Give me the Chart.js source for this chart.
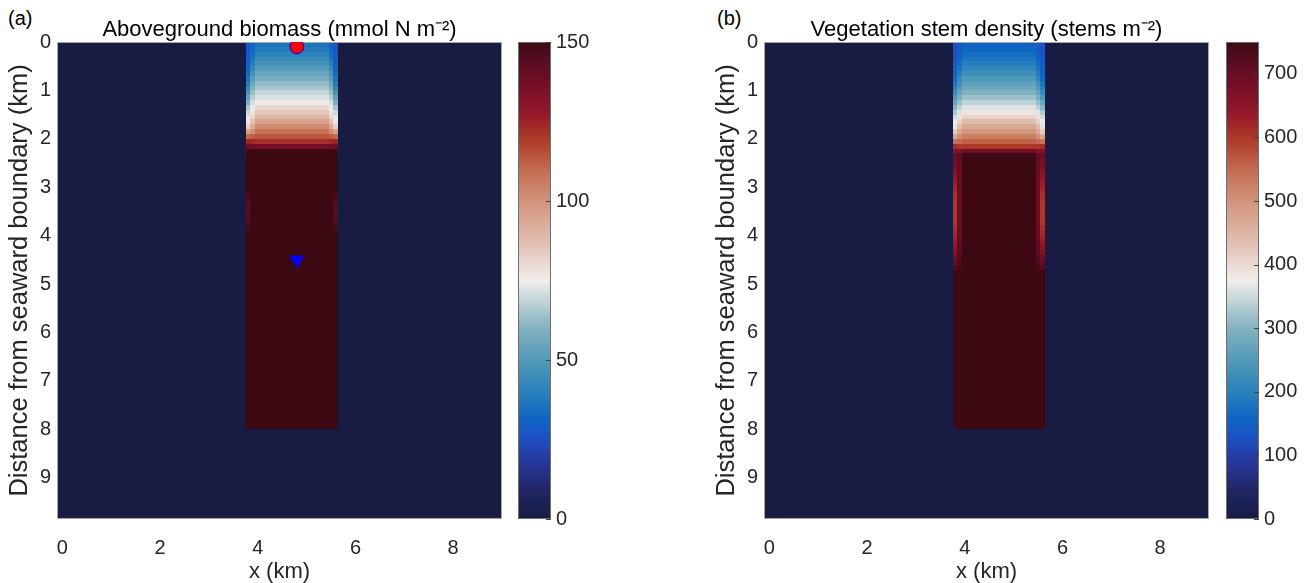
<!DOCTYPE html>
<html><head><meta charset="utf-8">
<script src="https://cdn.jsdelivr.net/npm/chart.js@4.4.1/dist/chart.umd.min.js"></script>
<style>
html,body{margin:0;padding:0;background:#fff;}
body{position:relative;width:1309px;height:583px;overflow:hidden;}
canvas{position:absolute;top:0;}
.panel{position:absolute;top:6px;font:20px "Liberation Sans",Arial,sans-serif;color:#000;line-height:24px;}
</style></head><body>
<div class="panel" style="left:8px">(a)</div>
<div class="panel" style="left:717px">(b)</div>
<canvas id="mapA" width="515" height="583" style="left:0px"></canvas>
<canvas id="barA" width="110" height="583" style="left:500px"></canvas>
<canvas id="mapB" width="515" height="583" style="left:707px"></canvas>
<canvas id="barB" width="110" height="583" style="left:1208px"></canvas>
<script>
// ---------------- DATA ----------------
const vegColumnCentres = [3.8,3.9,4.0,4.1,4.2,4.3,4.4,4.5,4.6,4.7,4.8,4.9,5.0,5.1,5.2,5.3,5.4,5.5,5.6];
const vegColumnProfile = ['edge','near','mid','mid','mid','mid','mid','mid','mid','mid','mid','mid','mid','mid','mid','mid','mid','near','edge'];
const rowCentres = [
 0.05,0.15,0.25,0.35,0.45,0.55,0.65,0.75,0.85,0.95,1.05,1.15,1.25,1.35,1.45,1.55,1.65,1.75,1.85,1.95,
 2.05,2.15,2.25,2.35,2.45,2.55,2.65,2.75,2.85,2.95,3.05,3.15,3.25,3.35,3.45,3.55,3.65,3.75,3.85,3.95,
 4.05,4.15,4.25,4.35,4.45,4.55,4.65,4.75,4.85,4.95,5.05,5.15,5.25,5.35,5.45,5.55,5.65,5.75,5.85,5.95,
 6.05,6.15,6.25,6.35,6.45,6.55,6.65,6.75,6.85,6.95,7.05,7.15,7.25,7.35,7.45,7.55,7.65,7.75,7.85,7.95];
const bareValue = 0;

// (a) aboveground biomass, mmol N m-2
const biomassMid = [
 36,38,41,44,47,51,55,58,62,65,69,72,76,80,85,90,96,102,108,114,
 122,136,165,165,165,165,165,165,165,165,
 165,165,165,165,165,165,165,165,165,165,
 165,165,165,165,165,165,165,165,165,165,
 165,165,165,165,165,165,165,165,165,165,
 165,165,165,165,165,165,165,165,165,165,
 165,165,165,165,165,165,165,165,165,165];
const biomassNear = [
 31,32,34,36,39,43,47,51,55,59,63,67,71,74,77,81,86,93,101,112,
 124,137,152,163,163,163,163,163,163,163,
 163,163,163,163,163,163,163,163,163,163,
 163,163,163,163,163,163,163,163,163,163,
 163,163,163,163,163,163,163,163,163,163,
 163,163,163,163,163,163,163,163,163,163,
 163,163,163,163,163,163,163,163,163,163];
const biomassEdge = [
 27,27,28,29,30,31,33,35,38,42,47,53,59,65,70,74,77,82,95,110,
 125,138,148,152,152,152,152,152,152,152,
 152,148,146,144,144,144,144,146,148,156,
 156,156,156,156,156,156,156,156,156,156,
 156,156,156,156,156,156,156,156,156,156,
 156,156,156,156,156,156,156,156,156,156,
 156,156,156,156,156,156,156,156,156,156];

// (b) vegetation stem density, stems m-2
const stemMid = [
 150,158,168,180,195,210,228,245,262,280,298,318,340,362,385,410,440,468,495,525,
 560,600,690,748,770,770,770,770,770,770,
 770,770,770,770,770,770,770,770,770,770,
 770,770,770,770,770,770,770,770,770,770,
 770,770,770,770,770,770,770,770,770,770,
 770,770,770,770,770,770,770,770,770,770,
 770,770,770,770,770,770,770,770,770,770];
const stemNear = [
 140,144,150,158,168,180,195,212,230,250,270,292,315,340,362,385,410,440,470,505,
 550,600,665,712,708,705,702,700,698,696,
 695,694,694,694,695,696,698,700,702,705,
 708,712,716,722,728,734,740,765,765,765,
 765,765,765,765,765,765,765,765,765,765,
 765,765,765,765,765,765,765,765,765,765,
 765,765,765,765,765,765,765,765,765,765];
const stemEdge = [
 128,130,133,137,142,148,156,166,180,198,220,245,275,305,330,352,372,390,420,470,
 540,610,670,700,690,680,668,655,642,630,
 620,612,605,600,598,598,600,604,610,618,
 628,640,655,672,690,708,725,760,760,760,
 760,760,760,760,760,760,760,760,760,760,
 760,760,760,760,760,760,760,760,760,760,
 760,760,760,760,760,760,760,760,760,760];

const biomassTickStep = 50, biomassMax = 150;
const stemTickStep = 100, stemMax = 750;
const surfaceSite = [{x:4.8, y:0.1}];
const interiorSite = [{x:4.8, y:4.5}];

// ---------------- STYLE ----------------
const FONT = '"Liberation Sans", Arial, Helvetica, sans-serif';
const BALANCE = [
 [0.00,24,28,67],[0.06,31,38,100],[0.12,39,56,155],[0.17,28,80,196],[0.21,14,102,196],
 [0.27,43,131,186],[0.33,80,153,185],[0.40,130,178,192],[0.45,186,207,212],[0.50,241,237,236],
 [0.57,227,196,184],[0.66,211,151,126],[0.73,196,109,83],[0.79,177,62,40],[0.85,150,24,42],
 [0.91,118,14,40],[0.96,88,12,31],[1.00,60,9,18]];
function cmap(t){
  t = Math.max(0, Math.min(1, t));
  for (let i=1;i<BALANCE.length;i++){
    const a=BALANCE[i-1], b=BALANCE[i];
    if (t<=b[0]){
      const f=(t-a[0])/(b[0]-a[0]);
      return 'rgb('+Math.round(a[1]+f*(b[1]-a[1]))+','+Math.round(a[2]+f*(b[2]-a[2]))+','+Math.round(a[3]+f*(b[3]-a[3]))+')';
    }
  }
  const l=BALANCE[BALANCE.length-1]; return 'rgb('+l[1]+','+l[2]+','+l[3]+')';
}

function buildCells(mid, near, edge){
  const prof = {mid:mid, near:near, edge:edge};
  const out = [];
  vegColumnCentres.forEach((cx,i)=>{
    const p = prof[vegColumnProfile[i]];
    rowCentres.forEach((cy,j)=>out.push({x:cx, y:cy, v:p[j]}));
  });
  return out;
}

const heatPlugin = {
  id:'heat',
  beforeDatasetsDraw(chart, args, opts){
    const ctx = chart.ctx, a = chart.chartArea, xs = chart.scales.x, ys = chart.scales.y;
    ctx.save();
    ctx.beginPath(); ctx.rect(a.left, a.top, a.right-a.left, a.bottom-a.top); ctx.clip();
    ctx.fillStyle = cmap(opts.bare/opts.vmax);
    ctx.fillRect(a.left, a.top, a.right-a.left, a.bottom-a.top);
    const h = opts.half;
    for (const c of chart.data.datasets[0].data){
      const x0=Math.round(xs.getPixelForValue(c.x-h)), x1=Math.round(xs.getPixelForValue(c.x+h));
      const y0=Math.round(ys.getPixelForValue(c.y-h)), y1=Math.round(ys.getPixelForValue(c.y+h));
      ctx.fillStyle = cmap(c.v/opts.vmax);
      ctx.fillRect(Math.min(x0,x1), Math.min(y0,y1), Math.abs(x1-x0), Math.abs(y1-y0));
    }
    ctx.restore();
    ctx.save();
    ctx.strokeStyle = '#a8a8a8'; ctx.lineWidth = 1;
    ctx.strokeRect(Math.round(a.left)+0.5, Math.round(a.top)+0.5, Math.round(a.right-a.left)-1, Math.round(a.bottom-a.top)-1);
    ctx.restore();
  }
};

const cbarPlugin = {
  id:'cbar',
  beforeDatasetsDraw(chart, args, opts){
    const ctx = chart.ctx, a = chart.chartArea, ys = chart.scales.y;
    ctx.save();
    const top = Math.round(a.top), bot = Math.round(a.bottom), l = Math.round(a.left), r = Math.round(a.right);
    for (let py=top; py<bot; py++){
      ctx.fillStyle = cmap(ys.getValueForPixel(py+0.5)/opts.vmax);
      ctx.fillRect(l, py, r-l, 1);
    }
    ctx.strokeStyle = '#6e6e6e'; ctx.lineWidth = 1;
    ctx.strokeRect(l+0.5, top+0.5, r-l-1, bot-top-1);
    ctx.strokeStyle = '#404040';
    ys.ticks.forEach(t=>{
      const py = Math.round(ys.getPixelForValue(t.value))+0.5;
      ctx.beginPath(); ctx.moveTo(r-5, py); ctx.lineTo(r, py); ctx.stroke();
    });
    ctx.restore();
  }
};

function mapConfig(cells, vmax, title, markers){
  return {
    type:'scatter',
    data:{datasets:[{data:cells, pointRadius:0, pointHoverRadius:0}].concat(markers)},
    options:{
      responsive:false, animation:false, events:[],
      layout:{padding:{left:0,right:13,top:0,bottom:0}},
      plugins:{
        legend:{display:false}, tooltip:{enabled:false},
        title:{display:true, text:title, fullSize:false, color:'#000',
               font:{family:FONT, size:22, weight:'normal', lineHeight:1.136}, padding:{top:17,bottom:0}},
        heat:{vmax:vmax, bare:bareValue, half:0.05}
      },
      scales:{
        x:{type:'linear', min:-0.11, max:9.0, afterFit:s=>{s.height=64;},
           grid:{display:false, drawTicks:false}, border:{display:false},
           ticks:{stepSize:2, includeBounds:false, color:'#262626', font:{family:FONT,size:20}, padding:17, maxRotation:0},
           title:{display:true, text:'x (km)', color:'#262626', font:{family:FONT,size:22,lineHeight:1.0}, padding:{top:0,bottom:0}}},
        y:{type:'linear', reverse:true, min:0, max:9.85, afterFit:s=>{s.width=57;},
           grid:{display:false, drawTicks:false}, border:{display:false},
           ticks:{stepSize:1, includeBounds:false, color:'#262626', font:{family:FONT,size:20}, padding:6, autoSkip:false},
           title:{display:true, text:'Distance from seaward boundary (km)', color:'#262626', font:{family:FONT,size:25.5,lineHeight:1.2}, padding:{top:5,bottom:0}}}
      }
    },
    plugins:[heatPlugin]
  };
}

function barConfig(vmax, step){
  return {
    type:'scatter',
    data:{datasets:[]},
    options:{
      responsive:false, animation:false, events:[],
      layout:{padding:{left:18,right:0,top:42,bottom:64}},
      plugins:{legend:{display:false}, tooltip:{enabled:false}, cbar:{vmax:vmax}},
      scales:{
        x:{display:false, min:0, max:1},
        y:{position:'right', min:0, max:vmax, afterFit:s=>{s.width=59;},
           grid:{display:false, drawTicks:false}, border:{display:false},
           ticks:{stepSize:step, includeBounds:false, color:'#262626', font:{family:FONT,size:20}, padding:5}}
      }
    },
    plugins:[cbarPlugin]
  };
}

const markersA = [
  {data:surfaceSite, pointStyle:'circle', pointRadius:7, pointBackgroundColor:'#ff0000', pointBorderColor:'#0000ff', pointBorderWidth:1},
  {data:interiorSite, pointStyle:'triangle', pointRotation:180, pointRadius:8.7, pointBackgroundColor:'#0000ff', pointBorderColor:'#0000ff', pointBorderWidth:0}
];

new Chart(document.getElementById('mapA'), mapConfig(buildCells(biomassMid, biomassNear, biomassEdge), biomassMax, 'Aboveground biomass (mmol N m\u207B\u00B2)', markersA));
new Chart(document.getElementById('barA'), barConfig(biomassMax, biomassTickStep));
new Chart(document.getElementById('mapB'), mapConfig(buildCells(stemMid, stemNear, stemEdge), stemMax, 'Vegetation stem density (stems m\u207B\u00B2)', []));
new Chart(document.getElementById('barB'), barConfig(stemMax, stemTickStep));
</script>
</body></html>
